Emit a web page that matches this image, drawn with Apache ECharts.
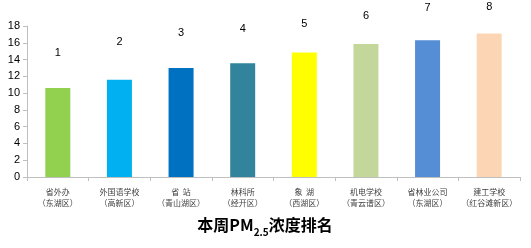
<!DOCTYPE html>
<html><head><meta charset="utf-8">
<script src="https://cdn.jsdelivr.net/npm/echarts@6/dist/echarts.min.js"></script>
<style>html,body{margin:0;padding:0;background:#fff}#c{width:531px;height:248px}</style>
</head><body><div id="c"></div>
<script>
const stations = ['省外办','外国语学校','省  站','林科所','象  湖','机电学校','省林业公司','建工学校'];
const districts = ['（东湖区）','（高新区）','（青山湖区）','（经开区）','（西湖区）','（青云谱区）','（东湖区）','（红谷滩新区）'];
const pmValues = [10.6, 11.6, 13.0, 13.55, 14.85, 15.85, 16.3, 17.1];
const ranks = ['1','2','3','4','5','6','7','8'];
const barColors = ['#92D050','#00B0F0','#0070C0','#31849B','#FFFF00','#C4D79B','#558ED5','#FCD5B5'];
const labelGaps = [30,32,29,29,23,23,27,21];
const yTicks = [0,2,4,6,8,10,12,14,16,18];

const chart = echarts.init(document.getElementById('c'));
chart.setOption({
  animation:false,
  title:{
    text:'{a|本周PM}{s|2.5}{a|浓度排名}',
    left:260, top:208, textAlign:'center',
    textStyle:{rich:{
      a:{fontSize:16,fontWeight:'bold',color:'#000',fontFamily:'Noto Sans CJK SC',verticalAlign:'bottom',lineHeight:20},
      s:{fontSize:10,fontWeight:'bold',color:'#000',fontFamily:'Noto Sans CJK SC',verticalAlign:'bottom',lineHeight:14,padding:[0,0,-4,0]}
    }}
  },
  grid:{left:27,right:11,top:26,bottom:71},
  xAxis:{
    type:'category',
    data:stations.map((s,i)=>s+'\n'+districts[i]),
    axisLine:{lineStyle:{color:'#BFBFBF',width:1}},
    axisTick:{show:true,length:4,lineStyle:{color:'#BFBFBF'}},
    axisLabel:{fontSize:8,color:'#404040',lineHeight:11,margin:9,interval:0,fontFamily:'Noto Sans CJK SC'}
  },
  yAxis:{
    type:'value',min:yTicks[0],max:yTicks[yTicks.length-1],interval:2,
    splitLine:{show:false},
    axisLine:{show:true,lineStyle:{color:'#BFBFBF'}},
    axisTick:{show:true,length:4,lineStyle:{color:'#BFBFBF'}},
    axisLabel:{fontSize:11,color:'#000',margin:7,fontFamily:'Liberation Sans'}
  },
  series:[{
    type:'bar',
    barWidth:25,
    data:pmValues.map((v,i)=>({value:v,itemStyle:{color:barColors[i]},label:{formatter:ranks[i],distance:labelGaps[i]}})),
    label:{show:true,position:'top',fontSize:11,color:'#000',fontFamily:'Liberation Sans'}
  }]
});
</script></body></html>
